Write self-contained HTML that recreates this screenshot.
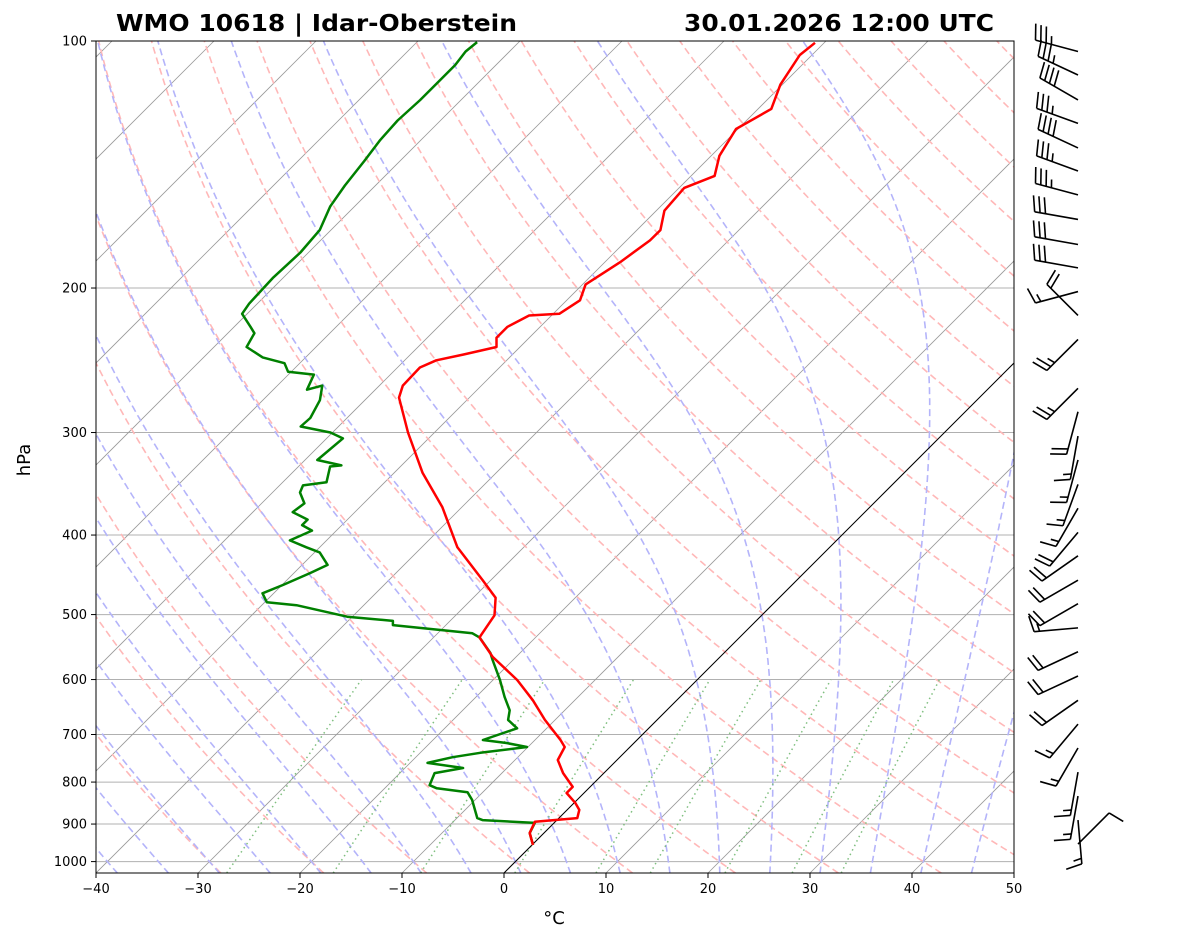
<!DOCTYPE html>
<html><head><meta charset="utf-8">
<style>
html,body{margin:0;padding:0;background:#fff;}
svg{display:block;font-family:"DejaVu Sans","Liberation Sans",sans-serif;}
</style></head>
<body>
<svg id="chart" width="1181" height="941" viewBox="0 0 1181 941" xmlns="http://www.w3.org/2000/svg">
<defs><clipPath id="plotclip"><rect x="96" y="41" width="918" height="832"/></clipPath></defs>
<rect x="0" y="0" width="1181" height="941" fill="#fff"/>
<g id="bg" clip-path="url(#plotclip)"></g>
<g id="profiles" clip-path="url(#plotclip)"></g>
<rect x="96" y="41" width="918" height="832" fill="none" stroke="#000" stroke-width="1"/>
<g id="axes"></g>
<g id="barbs"></g>
<text x="116" y="31" font-size="23" font-weight="bold" textLength="401" lengthAdjust="spacingAndGlyphs">WMO 10618 | Idar-Oberstein</text>
<text x="684" y="31" font-size="23" font-weight="bold" textLength="310" lengthAdjust="spacingAndGlyphs">30.01.2026 12:00 UTC</text>
<text x="0" y="0" font-size="18" text-anchor="middle" transform="translate(30,460) rotate(-90)">hPa</text>
<text x="554" y="924" font-size="18" text-anchor="middle">°C</text>
</svg>
<script>
const tempP=[954.5,923,894,885,865,848,825,811,780,752,725,711,672,636,601,563,533,501,477,454,414,370,336,300,272,263,250,245,241,236,230,223,216,215,207,198,191,186,175,170,161,151,146,138,128,121,113,104,100.5];
const tempT=[0.1,-1.4,-2.0,1.8,1.2,0.1,-1.7,-1.7,-4.0,-5.8,-6.4,-7.5,-11.0,-14.1,-17.6,-22.3,-25.5,-26.2,-27.8,-30.8,-36.5,-41.9,-47.2,-52.6,-56.9,-57.7,-57.8,-56.9,-54.8,-52.3,-53.2,-53.2,-52.2,-49.4,-48.7,-49.7,-49.0,-48.5,-47.7,-47.7,-49.2,-49.5,-47.7,-49.2,-50.2,-48.7,-50.2,-51.2,-50.9];
const dewP=[954.5,923,897,890,885,841,823,814,807,780,769,758,746,737,725,717,711,688,672,654,630,601,568,557,533,527,515,509,503,487,483,471,460,445,435,420,414,406,395,389,383,375,366,355,348,345,330,329,324,305,300,295,288,274,263,266,255,253,247,243,236,227,223,215,209,202,194.5,181,170,159,150,140,132,125,118,113,107,103,100.3];
const dewT=[0.1,-1.4,-1.9,-7.3,-8.0,-10.3,-11.5,-14.9,-15.9,-16.6,-14.3,-18.3,-16.4,-14.1,-10.1,-12.5,-15.1,-12.9,-14.6,-15.4,-17.2,-19.3,-22.0,-22.9,-25.5,-26.6,-35.2,-35.6,-40.5,-46.6,-49.8,-51.1,-49.9,-48.4,-47.5,-49.5,-51.3,-53.6,-52.4,-53.9,-53.9,-56.1,-55.8,-57.3,-57.7,-55.7,-56.9,-55.9,-58.8,-58.4,-60.2,-63.7,-63.6,-64.4,-65.6,-66.7,-67.5,-70.3,-71.5,-74.2,-76.8,-77.4,-78.4,-80.5,-80.8,-80.9,-81.0,-80.8,-81.1,-82.4,-83.0,-83.5,-84.0,-84.2,-84.0,-84.0,-84.0,-84.3,-84.1];
const windP=[103,110,118,126,135,144,154,165,177,189,202,216,231,248,265,283,303,324,347,371,397,424,454,485,519,555,594,636,680,727,778,832,890,952];
const windDir=[285,295,300,290,295,290,285,280,280,280,255,315,225,0,225,195,190,195,200,210,220,235,240,240,265,245,245,235,220,210,190,190,175,45];
const windSpd=[35,35,40,35,40,35,35,30,30,30,15,20,25,0,25,20,15,15,15,15,20,20,20,20,15,20,20,20,15,15,15,15,15,10];
const pTicks=[100,200,300,400,500,600,700,800,900,1000];
const tTicks=[-40,-30,-20,-10,0,10,20,30,40,50];
const mixRatios=[0.0004,0.001,0.002,0.004,0.007,0.01,0.016,0.024,0.032];

const NS="http://www.w3.org/2000/svg";
const X0=96,X1=1014,Y0=41,Y1=873,DEC=820.6,PXC=10.2;
function yP(p){return Y0+DEC*Math.log10(p/100);}
function xT(t,p){return X0+(t+40)*PXC+(Y1-yP(p));}
const pBot=100*Math.pow(10,(Y1-Y0)/DEC);
function mk(tag,attrs,parent){const e=document.createElementNS(NS,tag);for(const k in attrs)e.setAttribute(k,attrs[k]);parent.appendChild(e);return e;}
function pathFrom(ps,ts){let d='';for(let i=0;i<ps.length;i++){d+=(i?'L':'M')+xT(ts[i],ps[i]).toFixed(1)+','+yP(ps[i]).toFixed(1);}return d;}
const bg=document.getElementById('bg'),prof=document.getElementById('profiles'),axes=document.getElementById('axes'),barbs=document.getElementById('barbs');

for(const p of pTicks){
  const l=mk('line',{x1:X0,x2:X1,y1:yP(p),y2:yP(p),stroke:'#b0b0b0','stroke-width':1},bg);
  
  
}
for(let t=-130;t<=50;t+=10){
  const l=mk('line',{x1:xT(t,pBot),y1:Y1,x2:xT(t,100),y2:Y0,stroke:'#999',"stroke-width":0.8},bg);
  
  
}
const levs=[];for(let p=pBot;p>=99;p-=5)levs.push(p);levs.push(100);
for(let th=-30;th<=200;th+=10){
  const ts=levs.map(p=>(th+273.15)*Math.pow(p/1000,0.2857)-273.15);
  const e=mk('path',{d:pathFrom(levs,ts),fill:'none',stroke:'#ffb8b8','stroke-width':1.6,'stroke-dasharray':'7,4'},bg);
  
  
}
function es(tc){return 6.112*Math.exp(17.67*tc/(tc+243.5));}
function dTdp(T,p){const Rd=287.04,Cp=1005.7,Lv=2.501e6,eps=0.622;const e=es(T-273.15);const rs=eps*e/(p-e);
  return (1/p)*(Rd*T+Lv*rs)/(Cp+(Lv*Lv*rs*eps)/(Rd*T*T));}
function moist(t0){
  const up=[],dn=[];let T=t0+273.15,p=1000,h=-2;
  while(p>100){const k1=dTdp(T,p),k2=dTdp(T+h/2*k1,p+h/2),k3=dTdp(T+h/2*k2,p+h/2),k4=dTdp(T+h*k3,p+h);T+=h/6*(k1+2*k2+2*k3+k4);p+=h;up.push([p,T-273.15]);}
  T=t0+273.15;p=1000;h=2;
  while(p<pBot){const k1=dTdp(T,p);T+=h*k1;p+=h;dn.push([p,T-273.15]);}
  return dn.reverse().concat([[1000,t0]]).concat(up);
}
for(let t0=-40;t0<=45;t0+=5){
  const a=moist(t0);
  const e=mk('path',{d:pathFrom(a.map(v=>v[0]),a.map(v=>v[1])),fill:'none',stroke:'#b4b4fa','stroke-width':1.6,'stroke-dasharray':'7,4'},bg);
  
  
}
for(const w of mixRatios){
  const ps=[],ts=[];
  for(let p=pBot;p>=600;p-=10){const e=w*p/(0.622+w);const l=Math.log(e/6.112);ts.push(243.5*l/(17.67-l));ps.push(p);}
  ps.push(600);{const e=w*600/(0.622+w);const l=Math.log(e/6.112);ts.push(243.5*l/(17.67-l));}
  const e=mk('path',{d:pathFrom(ps,ts),fill:'none',stroke:'#7fbf7f','stroke-width':1.5,'stroke-dasharray':'1.5,3.5'},bg);
  
  
}
const zl=mk('line',{x1:xT(0,pBot),y1:Y1,x2:xT(0,100),y2:Y0,stroke:'#000','stroke-width':1},bg);



const dp=mk('path',{d:pathFrom(dewP,dewT),fill:'none',stroke:'#008000','stroke-width':2.5,'stroke-linejoin':'round'},prof);


const tp=mk('path',{d:pathFrom(tempP,tempT),fill:'none',stroke:'#ff0000','stroke-width':2.5,'stroke-linejoin':'round'},prof);



for(const p of pTicks){
  const y=yP(p);
  const t=mk('line',{x1:X0-5,x2:X0,y1:y,y2:y,stroke:'#000','stroke-width':1},axes);
  
  
  const l=mk('text',{x:X0-9,y:y+4.5,'font-size':13,'text-anchor':'end'},axes);l.textContent=p;
  
  
}
for(const t of tTicks){
  const x=X0+(t+40)*PXC;
  const k=mk('line',{x1:x,x2:x,y1:Y1,y2:Y1+5,stroke:'#000','stroke-width':1},axes);
  
  
  const l=mk('text',{x:x,y:Y1+20,'font-size':13,'text-anchor':'middle'},axes);l.textContent=(t<0?'\u2212'+(-t):t);
  
  
}

const BX=1078,LEN=44,FL=16,SP=5.5;
for(let i=0;i<windP.length;i++){
  const spd=windSpd[i];if(spd<=0)continue;
  const d=windDir[i]*Math.PI/180,y=yP(windP[i]);
  const ux=Math.sin(d),uy=-Math.cos(d);
  const px=-uy,py=ux;
  const g=mk('g',{},barbs);
  
  
  const tx=BX+ux*LEN,ty=y+uy*LEN;
  mk('line',{x1:BX,y1:y,x2:tx,y2:ty,stroke:'#000','stroke-width':1.6},g);
  let rem=Math.round(spd/5)*5,pos=0;
  while(rem>=50){const ax=tx-ux*pos,ay=ty-uy*pos;const bx=tx-ux*(pos+8),by=ty-uy*(pos+8);
    mk('polygon',{points:`${ax},${ay} ${ax+px*FL+ux*2},${ay+py*FL+uy*2} ${bx},${by}`,fill:'#000'},g);pos+=10;rem-=50;}
  while(rem>=10){const ax=tx-ux*pos,ay=ty-uy*pos;
    mk('line',{x1:ax,y1:ay,x2:ax+px*FL+ux*4,y2:ay+py*FL+uy*4,stroke:'#000','stroke-width':1.6},g);pos+=SP;rem-=10;}
  if(rem>=5){if(pos===0)pos=SP;const ax=tx-ux*pos,ay=ty-uy*pos;
    mk('line',{x1:ax,y1:ay,x2:ax+px*FL/2+ux*2,y2:ay+py*FL/2+uy*2,stroke:'#000','stroke-width':1.6},g);}
}
</script>
</body></html>
